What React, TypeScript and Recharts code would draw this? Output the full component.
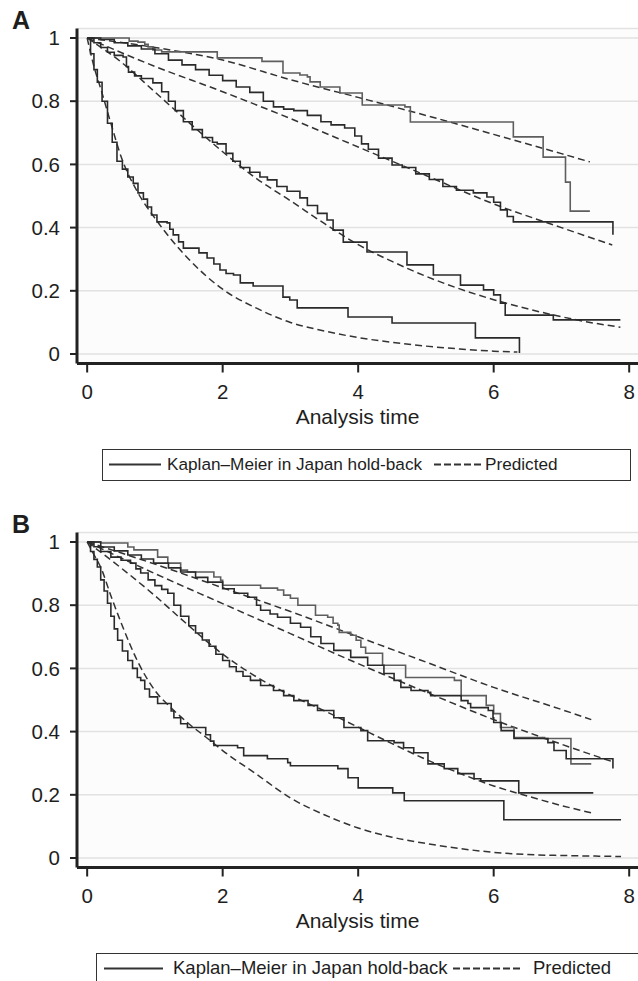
import React from 'react';
import { LineChart, Line, XAxis, YAxis, CartesianGrid } from 'recharts';

type Pt = [number, number];

// ---------- Panel A : Kaplan–Meier (observed) ----------
const kmA1: Pt[] = [[0,1],[0.55,1],[0.62,0.99],[0.75,0.987],[0.85,0.98],[0.9,0.972],[0.97,0.962],[1.1,0.956],[1.92,0.937],[2.58,0.926],[2.89,0.889],[3.14,0.883],[3.25,0.877],[3.29,0.861],[3.44,0.845],[3.73,0.826],[4.06,0.788],[4.69,0.782],[4.77,0.734],[6.29,0.687],[6.73,0.623],[7.06,0.544],[7.13,0.452],[7.42,0.452]];
const kmA2: Pt[] = [[0,1],[0.2,0.995],[0.4,0.985],[0.6,0.975],[0.8,0.965],[1.0,0.95],[1.2,0.93],[1.4,0.915],[1.6,0.9],[1.8,0.882],[2.0,0.865],[2.2,0.845],[2.4,0.828],[2.6,0.8],[2.75,0.782],[2.9,0.775],[3.05,0.77],[3.25,0.755],[3.45,0.735],[3.6,0.725],[3.8,0.715],[3.95,0.69],[4.05,0.665],[4.15,0.648],[4.3,0.62],[4.5,0.598],[4.65,0.59],[4.85,0.57],[5.05,0.552],[5.25,0.53],[5.45,0.518],[5.7,0.51],[5.9,0.497],[6.0,0.48],[6.1,0.456],[6.2,0.435],[6.29,0.418],[7.76,0.418],[7.76,0.377]];
const kmA3: Pt[] = [[0,1],[0.1,0.985],[0.2,0.97],[0.3,0.955],[0.4,0.945],[0.53,0.94],[0.58,0.91],[0.61,0.892],[0.7,0.88],[0.8,0.872],[0.97,0.858],[1.1,0.83],[1.2,0.8],[1.3,0.77],[1.42,0.735],[1.55,0.71],[1.7,0.685],[1.85,0.67],[1.92,0.665],[2.05,0.635],[2.15,0.61],[2.26,0.59],[2.4,0.575],[2.55,0.56],[2.66,0.551],[2.8,0.53],[2.95,0.515],[3.14,0.494],[3.25,0.47],[3.4,0.445],[3.54,0.424],[3.63,0.392],[3.78,0.354],[4.13,0.323],[4.52,0.323],[4.72,0.282],[5.11,0.25],[5.4,0.25],[5.51,0.218],[5.85,0.203],[6.0,0.187],[6.1,0.161],[6.17,0.123],[6.88,0.123],[6.88,0.108],[7.87,0.108]];
const kmA4: Pt[] = [[0,1],[0.05,0.95],[0.1,0.9],[0.15,0.86],[0.22,0.8],[0.3,0.73],[0.37,0.67],[0.44,0.61],[0.52,0.585],[0.6,0.56],[0.68,0.54],[0.75,0.51],[0.83,0.49],[0.89,0.465],[0.95,0.44],[1.03,0.418],[1.18,0.415],[1.22,0.395],[1.27,0.377],[1.35,0.355],[1.42,0.335],[1.56,0.335],[1.65,0.32],[1.77,0.304],[1.87,0.285],[1.96,0.266],[2.05,0.255],[2.16,0.25],[2.26,0.225],[2.45,0.215],[2.89,0.18],[2.99,0.171],[3.1,0.146],[3.85,0.117],[4.5,0.098],[5.73,0.051],[6.38,0.003]];

// ---------- Panel A : Predicted ----------
const prA1: Pt[] = [[0,1],[1,0.97],[2,0.93],[3,0.868],[4,0.812],[5,0.755],[6,0.695],[7,0.634],[7.42,0.608]];
const prA2: Pt[] = [[0,1],[1,0.91],[2,0.83],[3,0.745],[4,0.655],[5,0.565],[6,0.475],[7,0.4],[7.75,0.345]];
const prA3: Pt[] = [[0,1],[0.5,0.924],[1,0.829],[1.5,0.733],[2,0.64],[2.5,0.555],[3,0.485],[3.5,0.413],[4,0.346],[4.5,0.293],[5,0.246],[5.5,0.206],[6,0.172],[6.5,0.143],[7,0.118],[7.5,0.097],[7.87,0.085]];
const prA4: Pt[] = [[0,1],[0.1,0.91],[0.2,0.84],[0.35,0.73],[0.5,0.625],[0.75,0.51],[1,0.43],[1.25,0.36],[1.5,0.3],[2,0.205],[2.5,0.145],[3,0.1],[3.5,0.073],[4,0.052],[4.5,0.037],[5,0.025],[5.5,0.016],[6,0.009],[6.35,0.006]];

// ---------- Panel B : Kaplan–Meier (observed) ----------
const kmB1: Pt[] = [[0,1],[0.2,0.997],[0.6,0.984],[0.69,0.975],[0.89,0.975],[1.04,0.952],[1.19,0.933],[1.38,0.911],[1.48,0.905],[1.78,0.905],[1.87,0.889],[1.97,0.879],[2.0,0.863],[2.46,0.863],[2.56,0.854],[2.81,0.848],[2.9,0.832],[3.0,0.822],[3.11,0.8],[3.3,0.8],[3.37,0.768],[3.55,0.762],[3.63,0.743],[3.7,0.737],[3.72,0.714],[3.89,0.705],[3.97,0.689],[4.04,0.667],[4.11,0.648],[4.33,0.648],[4.36,0.61],[4.63,0.61],[4.7,0.571],[5.41,0.571],[5.42,0.562],[5.52,0.514],[5.89,0.483],[6.0,0.457],[6.1,0.413],[6.3,0.381],[6.75,0.378],[7.14,0.371],[7.14,0.298],[7.44,0.298]];
const kmB2: Pt[] = [[0,1],[0.2,0.984],[0.4,0.972],[0.6,0.959],[0.8,0.946],[0.98,0.933],[1.2,0.918],[1.38,0.905],[1.6,0.888],[1.78,0.873],[2.0,0.852],[2.17,0.838],[2.37,0.825],[2.5,0.8],[2.56,0.784],[2.7,0.772],[2.81,0.762],[3.0,0.743],[3.15,0.73],[3.3,0.7],[3.45,0.679],[3.64,0.657],[3.89,0.635],[4.14,0.61],[4.38,0.584],[4.53,0.562],[4.63,0.54],[4.78,0.53],[5.03,0.524],[5.07,0.514],[5.52,0.498],[5.62,0.489],[5.66,0.476],[5.92,0.467],[5.99,0.444],[6.0,0.429],[6.11,0.403],[6.3,0.378],[6.7,0.378],[6.8,0.365],[6.89,0.34],[7.07,0.314],[7.76,0.314],[7.76,0.283]];
const kmB3: Pt[] = [[0,1],[0.1,0.985],[0.2,0.97],[0.35,0.952],[0.5,0.942],[0.64,0.933],[0.72,0.915],[0.79,0.902],[0.9,0.88],[1.0,0.862],[1.1,0.85],[1.19,0.838],[1.28,0.8],[1.38,0.765],[1.5,0.735],[1.6,0.712],[1.7,0.69],[1.8,0.67],[1.9,0.645],[2.0,0.625],[2.1,0.605],[2.2,0.59],[2.3,0.575],[2.41,0.562],[2.56,0.546],[2.75,0.53],[2.9,0.514],[3.05,0.498],[3.26,0.483],[3.4,0.467],[3.64,0.444],[3.79,0.413],[4.04,0.403],[4.14,0.371],[4.53,0.365],[4.67,0.349],[4.82,0.333],[5.03,0.298],[5.27,0.283],[5.47,0.267],[5.71,0.251],[5.81,0.244],[6.37,0.244],[6.37,0.206],[7.47,0.206]];
const kmB4: Pt[] = [[0,1],[0.05,0.97],[0.1,0.945],[0.15,0.921],[0.2,0.88],[0.25,0.845],[0.3,0.806],[0.35,0.765],[0.4,0.725],[0.45,0.689],[0.52,0.655],[0.6,0.625],[0.67,0.6],[0.74,0.571],[0.79,0.562],[0.85,0.535],[0.92,0.51],[1.04,0.489],[1.19,0.489],[1.24,0.465],[1.28,0.444],[1.38,0.425],[1.48,0.413],[1.68,0.413],[1.75,0.39],[1.82,0.37],[1.87,0.356],[2.22,0.349],[2.31,0.324],[2.66,0.314],[2.96,0.302],[3.0,0.292],[3.67,0.292],[3.7,0.283],[3.85,0.254],[4.0,0.222],[4.51,0.206],[4.68,0.181],[6.15,0.181],[6.15,0.121],[7.88,0.121]];

// ---------- Panel B : Predicted ----------
const prB1: Pt[] = [[0,1],[1,0.93],[2,0.855],[3,0.78],[4,0.7],[5,0.62],[6,0.54],[7,0.47],[7.44,0.438]];
const prB2: Pt[] = [[0,1],[1,0.9],[2,0.805],[3,0.71],[4,0.615],[5,0.525],[6,0.438],[7,0.36],[7.75,0.305]];
const prB3: Pt[] = [[0,1],[0.5,0.918],[1,0.83],[1.5,0.735],[2,0.645],[2.5,0.573],[3,0.515],[3.5,0.466],[4,0.414],[4.5,0.362],[5,0.312],[5.5,0.268],[6,0.228],[6.5,0.196],[7,0.166],[7.44,0.143]];
const prB4: Pt[] = [[0,1],[0.1,0.96],[0.2,0.92],[0.35,0.83],[0.5,0.745],[0.75,0.62],[1,0.53],[1.25,0.473],[1.5,0.425],[1.75,0.383],[2,0.34],[2.5,0.265],[3,0.19],[3.5,0.137],[4,0.095],[4.5,0.066],[5,0.046],[5.5,0.03],[6,0.018],[6.5,0.011],[7,0.008],[7.5,0.006],[7.88,0.005]];

// ---------- Axes / text ----------
const X_TICKS = [0, 2, 4, 6, 8];
const Y_TICKS = [0, 0.2, 0.4, 0.6, 0.8, 1];
const X_LABEL = 'Analysis time';
const LEGEND_KM = 'Kaplan–Meier in Japan hold-back';
const LEGEND_PRED = 'Predicted';

const FONT = '"Liberation Sans", Arial, Helvetica, sans-serif';
const rows = (pts: Pt[]) => pts.map(([t, s]) => ({ t, s }));

type LegendCfg = {
  boxLeft: number; boxWidth: number; fontSize: number;
  lineFrom: number; lineTo: number; textAt: number;
  dashFrom: number; dashTo: number; predAt: number;
};

function Legend({ cfg }: { cfg: LegendCfg }) {
  const h = 32;
  const rel = (x: number) => x - cfg.boxLeft;
  const txt: React.CSSProperties = {
    position: 'absolute', top: 0, height: h - 3, display: 'flex', alignItems: 'center',
    fontSize: cfg.fontSize, color: '#1e1e1e', lineHeight: 1, whiteSpace: 'nowrap',
  };
  return (
    <div style={{ position: 'absolute', left: cfg.boxLeft, top: 449, width: cfg.boxWidth, height: h,
      border: '1.5px solid #333', boxSizing: 'border-box', fontFamily: FONT }}>
      <svg style={{ position: 'absolute', left: 0, top: 0 }} width={cfg.boxWidth} height={h - 3}>
        <line x1={rel(cfg.lineFrom)} x2={rel(cfg.lineTo)} y1={14.5} y2={14.5} stroke="#333" strokeWidth={1.8} />
        <line x1={rel(cfg.dashFrom)} x2={rel(cfg.dashTo)} y1={14.5} y2={14.5} stroke="#333" strokeWidth={1.8} strokeDasharray="7 3" />
      </svg>
      <span style={{ ...txt, left: rel(cfg.textAt) }}>{LEGEND_KM}</span>
      <span style={{ ...txt, left: rel(cfg.predAt) }}>{LEGEND_PRED}</span>
    </div>
  );
}

function Panel({ top, letter, km, pred, legend }: { top: number; letter: string; km: Pt[][]; pred: Pt[][]; legend: LegendCfg }) {
  return (
    <div style={{ position: 'absolute', left: 0, top, width: 638, height: 490 }}>
      <LineChart width={638} height={440} margin={{ top: 28.5, right: 0, bottom: 0, left: 0 }} style={{ fontFamily: FONT }}>
        <CartesianGrid vertical={false} fill="#fcfcfc" stroke="#e2e2e2" strokeWidth={1.5} />
        <XAxis type="number" dataKey="t" domain={[-0.15, 8.13]} ticks={X_TICKS} allowDataOverflow
          height={76.5} tickSize={9} tickMargin={12}
          axisLine={{ stroke: '#222', strokeWidth: 3 }} tickLine={{ stroke: '#222', strokeWidth: 2 }}
          tick={{ fontSize: 20.5, fill: '#1e1e1e' }}
          label={{ value: X_LABEL, position: 'insideBottom', offset: 16, fontSize: 21, fill: '#1e1e1e' }} />
        <YAxis type="number" domain={[-0.03, 1.03]} ticks={Y_TICKS} allowDataOverflow width={77}
          tickSize={7} tickMargin={10}
          axisLine={{ stroke: '#222', strokeWidth: 3 }} tickLine={{ stroke: '#222', strokeWidth: 2 }}
          tick={{ fontSize: 20.5, fill: '#1e1e1e' }} tickFormatter={(v: number) => String(v)} />
        {pred.map((p, i) => (
          <Line key={'p' + i} data={rows(p)} dataKey="s" type="monotone" stroke="#333" strokeWidth={1.5}
            strokeDasharray="7 4" dot={false} activeDot={false} isAnimationActive={false} />
        ))}
        {km.map((p, i) => (
          <Line key={'k' + i} data={rows(p)} dataKey="s" type="stepAfter" stroke={i === 0 ? '#5e5e5e' : '#2a2a2a'}
            strokeWidth={1.6} dot={false} activeDot={false} isAnimationActive={false} />
        ))}
      </LineChart>
      <div style={{ position: 'absolute', left: 12, top: 8, fontSize: 25, fontWeight: 'bold', lineHeight: 1,
        fontFamily: FONT, color: '#1e1e1e' }}>{letter}</div>
      <Legend cfg={legend} />
    </div>
  );
}

const legendA: LegendCfg = { boxLeft: 102, boxWidth: 529, fontSize: 17.2, lineFrom: 108, lineTo: 160, textAt: 166, dashFrom: 433, dashTo: 482, predAt: 484 };
const legendB: LegendCfg = { boxLeft: 96, boxWidth: 560, fontSize: 18.5, lineFrom: 103, lineTo: 162, textAt: 172, dashFrom: 452, dashTo: 521, predAt: 532 };

export default function App() {
  return (
    <div style={{ position: 'absolute', left: 0, top: 0, width: 638, height: 981, overflow: 'hidden', background: '#fff' }}>
      <Panel top={0} letter="A" km={[kmA1, kmA2, kmA3, kmA4]} pred={[prA1, prA2, prA3, prA4]} legend={legendA} />
      <Panel top={504} letter="B" km={[kmB1, kmB2, kmB3, kmB4]} pred={[prB1, prB2, prB3, prB4]} legend={legendB} />
    </div>
  );
}
